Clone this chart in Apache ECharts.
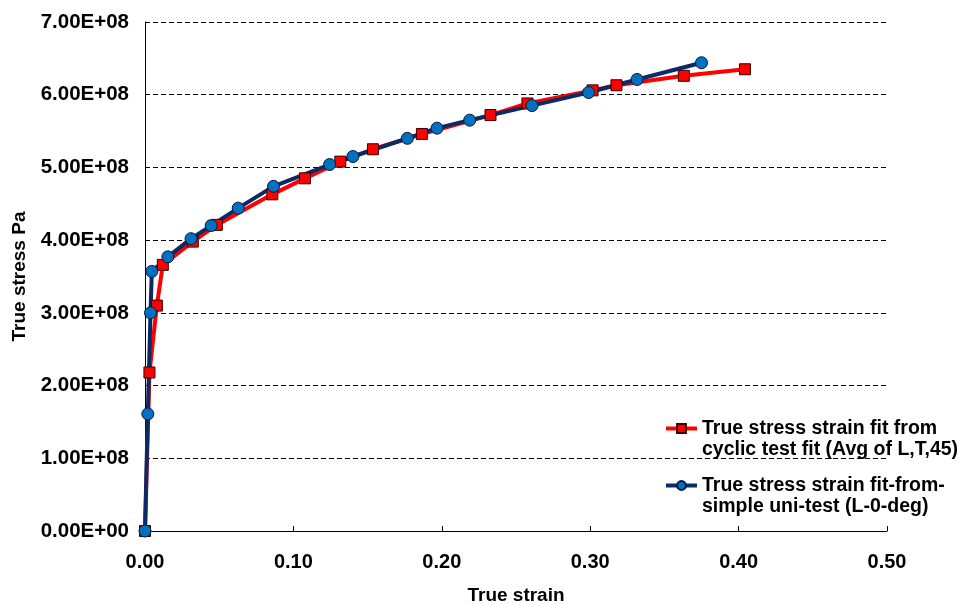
<!DOCTYPE html>
<html>
<head>
<meta charset="utf-8">
<script src="https://cdn.jsdelivr.net/npm/echarts@6/dist/echarts.min.js"></script>
<style>
html,body{margin:0;padding:0;background:#fff;}
#chart{width:968px;height:605px;}
</style>
</head>
<body>
<div id="chart"></div>
<script>
// Series 1: cyclic test fit
const cyclicStrain = [0, 0.003, 0.008, 0.012, 0.0322, 0.0484, 0.0858, 0.1078, 0.1316, 0.1536, 0.1866, 0.2328, 0.2577, 0.3016, 0.3177, 0.3631, 0.4043];
const cyclicStress = [0, 2.18e8, 3.10e8, 3.66e8, 3.98e8, 4.21e8, 4.63e8, 4.85e8, 5.08e8, 5.25e8, 5.46e8, 5.72e8, 5.88e8, 6.06e8, 6.13e8, 6.26e8, 6.35e8];
// Series 2: simple uni-test
const uniStrain = [0, 0.0019, 0.0037, 0.0046, 0.0154, 0.031, 0.0446, 0.0628, 0.0866, 0.1244, 0.1401, 0.1768, 0.1968, 0.2188, 0.2608, 0.2989, 0.3316, 0.375];
const uniStress = [0, 1.61e8, 3.00e8, 3.57e8, 3.77e8, 4.02e8, 4.20e8, 4.44e8, 4.74e8, 5.04e8, 5.15e8, 5.40e8, 5.54e8, 5.65e8, 5.85e8, 6.03e8, 6.21e8, 6.44e8];

const seriesNames = [
  'True stress strain fit from\ncyclic test fit (Avg of L,T,45)',
  'True stress strain fit-from-\nsimple uni-test (L-0-deg)'
];
const xTitle = 'True strain';
const yTitle = 'True stress Pa';

function pairs(xs, ys){ return xs.map((x,i)=>[x, ys[i]]); }
function yFmt(v){
  if (v === 0) return '0.00E+00';
  return (v/1e8).toFixed(2) + 'E+08';
}

const FONT = '"Liberation Sans", Arial, sans-serif';
const chart = echarts.init(document.getElementById('chart'), null, {renderer:'canvas'});
chart.setOption({
  animation: false,
  backgroundColor: '#ffffff',
  grid: {left: 145, right: 81, top: 22, bottom: 74, containLabel: false, outerBoundsMode: 'none'},
  xAxis: {
    type: 'value', min: 0, max: 0.5, interval: 0.1,
    name: xTitle, nameLocation: 'middle', nameGap: 55,
    nameTextStyle: {fontFamily: FONT, fontWeight: 'bold', fontSize: 19, color: '#000'},
    axisLine: {lineStyle: {color: '#000', width: 1}},
    axisTick: {inside: true, length: 5, lineStyle: {color: '#000'}},
    axisLabel: {fontFamily: FONT, fontWeight: 'bold', fontSize: 20, color: '#000', margin: 21,
      formatter: v => v.toFixed(2)},
    splitLine: {show: false}
  },
  yAxis: {
    type: 'value', min: 0, max: 7e8, interval: 1e8,
    name: yTitle, nameLocation: 'middle', nameGap: 113, nameRotate: 90,
    nameTextStyle: {fontFamily: FONT, fontWeight: 'bold', fontSize: 19, color: '#000'},
    axisLine: {show: true, lineStyle: {color: '#000', width: 1}},
    axisTick: {show: true, inside: true, length: 4, lineStyle: {color: '#000'}},
    axisLabel: {fontFamily: FONT, fontWeight: 'bold', fontSize: 20.5, color: '#000', margin: 16,
      formatter: yFmt},
    splitLine: {show: true, lineStyle: {color: '#000', width: 1, type: [5, 3]}}
  },
  legend: {
    orient: 'vertical', left: 659, top: 392, itemGap: -6,
    itemWidth: 31, itemHeight: 11,
    lineStyle: {width: 4},
    formatter: name => '\n' + name,
    textStyle: {fontFamily: FONT, fontWeight: 'bold', fontSize: 19.5, color: '#000', lineHeight: 21},
    data: seriesNames
  },
  series: [
    {
      name: seriesNames[0], type: 'line', data: pairs(cyclicStrain, cyclicStress),
      symbol: 'rect', symbolSize: 11,
      lineStyle: {color: '#ff0000', width: 4},
      itemStyle: {color: '#ff0000', borderColor: '#3a0000', borderWidth: 1}
    },
    {
      name: seriesNames[1], type: 'line', data: pairs(uniStrain, uniStress),
      symbol: 'circle', symbolSize: 12,
      lineStyle: {color: '#0b2a66', width: 4},
      itemStyle: {color: '#0070c0', borderColor: '#061a3c', borderWidth: 1}
    }
  ]
});
</script>
</body>
</html>
